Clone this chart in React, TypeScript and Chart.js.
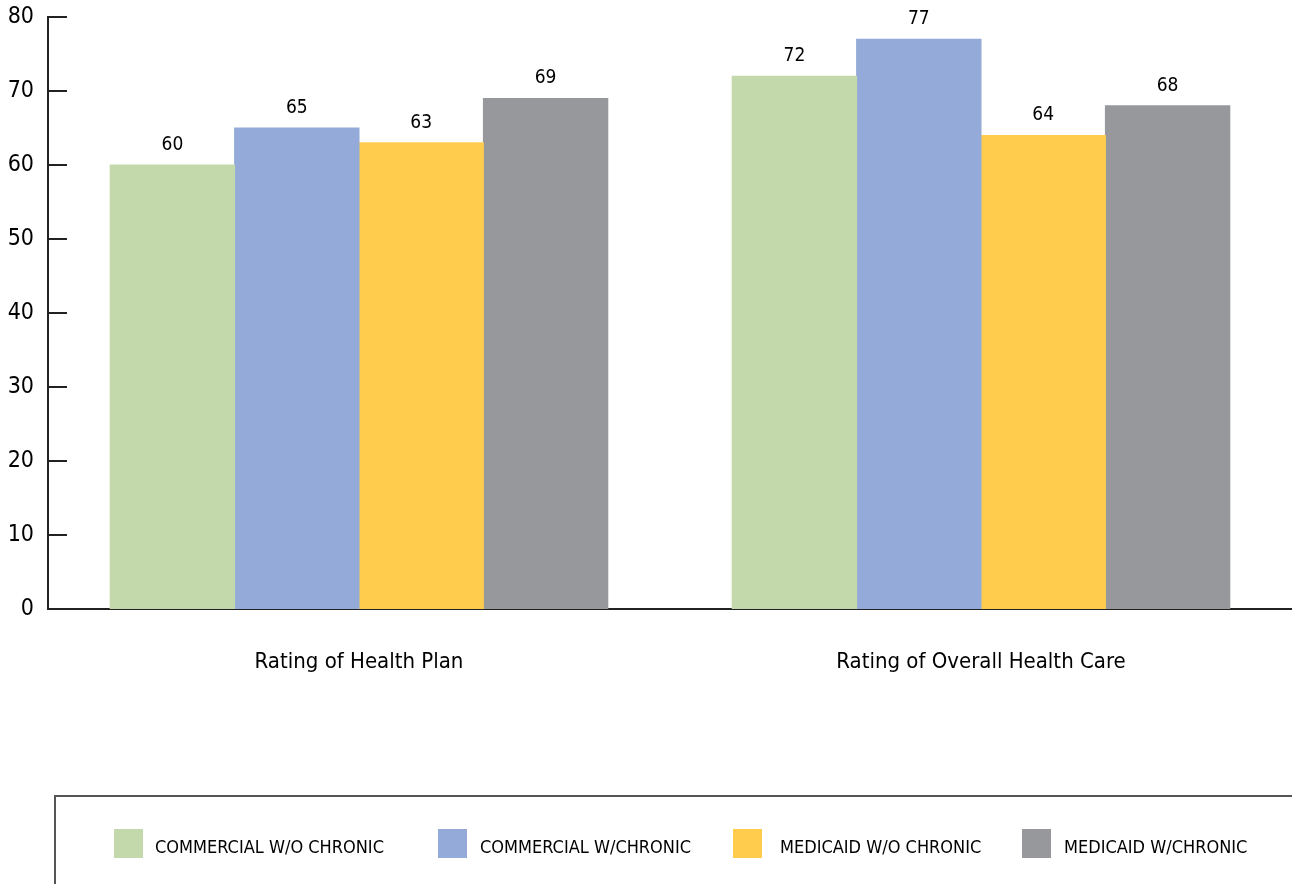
import React, { useEffect, useRef } from "react";
import { Chart, registerables } from "chart.js";

Chart.register(...registerables);

const categories = ["Rating of Health Plan", "Rating of Overall Health Care"];
const seriesNames = [
  "COMMERCIAL W/O CHRONIC",
  "COMMERCIAL W/CHRONIC",
  "MEDICAID W/O CHRONIC",
  "MEDICAID W/CHRONIC",
];
const commercialWithout = [60, 72];
const commercialWith = [65, 77];
const medicaidWithout = [63, 64];
const medicaidWith = [69, 68];
const seriesColors = ["#C4D9AB", "#94AAD8", "#FFCC4E", "#97989C"];
const yTicks = [0, 10, 20, 30, 40, 50, 60, 70, 80];

const FONT = "'DejaVu Sans Condensed', 'Liberation Sans Narrow', sans-serif";
const TEXT = "#000";

// Short tick marks that point into the plot from the y axis
const innerTicks = {
  id: "innerTicks",
  afterDraw(chart: any) {
    const { ctx, chartArea, scales } = chart;
    const y = scales.y;
    ctx.save();
    ctx.strokeStyle = "#222";
    ctx.lineWidth = 2;
    yTicks.forEach((v) => {
      if (v === 0) return;
      const py = Math.round(y.getPixelForValue(v));
      ctx.beginPath();
      ctx.moveTo(chartArea.left, py);
      ctx.lineTo(chartArea.left + 19, py);
      ctx.stroke();
    });
    ctx.restore();
  },
};

// Value labels above each bar
const valueLabels = {
  id: "valueLabels",
  afterDatasetsDraw(chart: any) {
    const { ctx } = chart;
    ctx.save();
    ctx.fillStyle = TEXT;
    ctx.font = `19px ${FONT}`;
    ctx.textAlign = "center";
    ctx.textBaseline = "middle";
    chart.data.datasets.forEach((ds: any, i: number) => {
      const meta = chart.getDatasetMeta(i);
      meta.data.forEach((bar: any, j: number) => {
        ctx.fillText(String(ds.data[j]), bar.x, bar.y - 20);
      });
    });
    ctx.restore();
  },
};

// Boxed legend along the bottom edge
const legendBox = {
  id: "legendBox",
  afterDraw(chart: any) {
    const { ctx, width, height } = chart;
    const top = 796;
    const left = 55;
    ctx.save();
    ctx.strokeStyle = "#555";
    ctx.lineWidth = 2;
    ctx.beginPath();
    ctx.moveTo(left, height);
    ctx.lineTo(left, top);
    ctx.lineTo(width, top);
    ctx.stroke();

    const boxX = [114, 438, 733, 1022];
    const textX = [155, 480, 780, 1064];
    ctx.font = `18px ${FONT}`;
    ctx.textBaseline = "middle";
    ctx.textAlign = "left";
    chart.data.datasets.forEach((ds: any, i: number) => {
      ctx.fillStyle = ds.backgroundColor;
      ctx.fillRect(boxX[i], 829, 29, 29);
      ctx.fillStyle = TEXT;
      ctx.fillText(ds.label, textX[i], 848);
    });
    ctx.restore();
  },
};

export default function App() {
  const canvasRef = useRef<HTMLCanvasElement | null>(null);

  useEffect(() => {
    document.body.style.margin = "0";
    const values = [commercialWithout, commercialWith, medicaidWithout, medicaidWith];
    const chart = new Chart(canvasRef.current as HTMLCanvasElement, {
      type: "bar",
      data: {
        labels: categories,
        datasets: seriesNames.map((name, i) => ({
          label: name,
          data: values[i],
          backgroundColor: seriesColors[i],
          borderWidth: 0,
          inflateAmount: 0.5,
          categoryPercentage: 0.8,
          barPercentage: 1.0,
        })),
      },
      options: {
        animation: false,
        responsive: true,
        maintainAspectRatio: false,
        layout: { padding: { top: 17, left: 0, right: 0, bottom: 0 } },
        plugins: {
          legend: { display: false },
          tooltip: { enabled: false },
        },
        scales: {
          x: {
            grid: { display: false, drawTicks: false },
            border: { display: true, color: "#222", width: 2 },
            ticks: {
              color: TEXT,
              font: { family: FONT, size: 22 },
              padding: 40,
            },
            afterFit(scale: any) {
              scale.height = 275;
              scale.paddingLeft = 0;
              scale.paddingRight = 0;
            },
          },
          y: {
            min: 0,
            max: 80,
            grid: { display: false, drawTicks: false },
            border: { display: true, color: "#222", width: 2 },
            afterBuildTicks(scale: any) {
              scale.ticks = yTicks.map((v) => ({ value: v }));
            },
            ticks: {
              color: TEXT,
              font: { family: FONT, size: 23 },
              padding: 14,
            },
            afterFit(scale: any) {
              scale.width = 48;
              scale.paddingTop = 0;
              scale.paddingBottom = 0;
            },
          },
        },
      },
      plugins: [innerTicks, valueLabels, legendBox],
    });
    return () => chart.destroy();
  }, []);

  return (
    <div style={{ width: 1292, height: 884, position: "relative" }}>
      <canvas ref={canvasRef} />
    </div>
  );
}
